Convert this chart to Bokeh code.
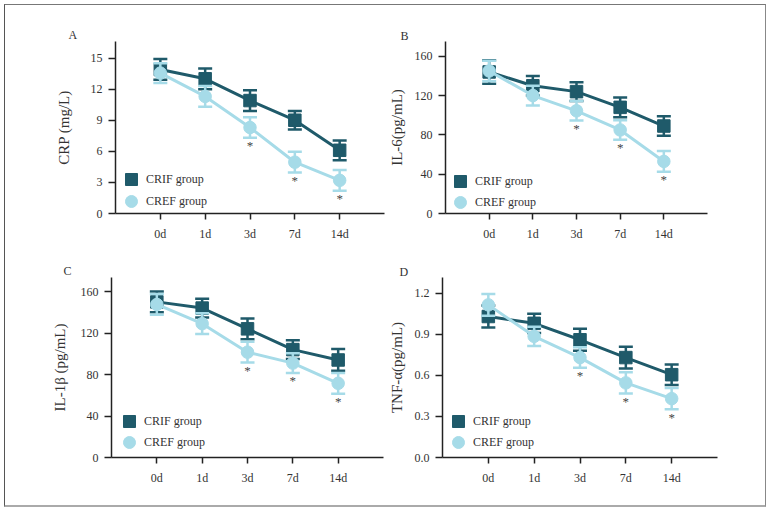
import math
from bokeh.plotting import figure
from bokeh.models import FixedTicker, Legend, LegendItem, Range1d, ColumnDataSource
from bokeh.layouts import column, row
from bokeh.embed import file_html
from bokeh.resources import INLINE
from bokeh.core.properties import value

# ---------------- data ----------------
days = ["0d", "1d", "3d", "7d", "14d"]
groups = ["CRIF group", "CREF group"]
sig = [False, False, True, True, True]   # * marks (CREF vs CRIF)

crp_crif = [13.9, 13.0, 10.9, 9.0, 6.1]
crp_crif_sd = [1.0, 1.0, 1.0, 0.9, 0.95]
crp_cref = [13.55, 11.3, 8.3, 4.95, 3.2]
crp_cref_sd = [0.95, 1.0, 1.0, 1.0, 1.0]

il6_crif = [144, 130, 124, 108, 89]
il6_crif_sd = [12, 10, 9.5, 10, 10]
il6_cref = [145, 120, 104.5, 85, 53]
il6_cref_sd = [10.5, 10, 10, 10, 10.5]

il1b_crif = [150, 144, 124, 104, 94]
il1b_crif_sd = [10, 9, 10, 9, 10.5]
il1b_cref = [147.5, 129, 101.5, 91, 71.5]
il1b_cref_sd = [10, 10, 10, 9.5, 10]

tnf_crif = [1.03, 0.98, 0.86, 0.73, 0.605]
tnf_crif_sd = [0.08, 0.07, 0.08, 0.08, 0.075]
tnf_cref = [1.115, 0.885, 0.73, 0.545, 0.43]
tnf_cref_sd = [0.08, 0.07, 0.075, 0.077, 0.078]

crp_ticks = [0, 3, 6, 9, 12, 15]
il_ticks = [0, 40, 80, 120, 160]
tnf_ticks = [0.0, 0.3, 0.6, 0.9, 1.2]

FONT = "Liberation Serif"
DARK = "#1f5a6a"
LIGHT = "#a6dbe8"
AXIS = "#222222"
TXT = "#333333"
GLYPH = 30  # legend glyph box -> marker size 0.4*30 = 12


def make_panel(letter, ylabel, ticks, fmt, ymax, crif, crif_sd, cref, cref_sd, g):
    p = figure(width=380, height=250, x_range=Range1d(-1, 5), y_range=Range1d(0, ymax),
               toolbar_location=None, output_backend="svg",
               min_border_left=g["l"], min_border_right=g["r"],
               min_border_top=g["t"], min_border_bottom=g["b"])
    p.outline_line_color = None
    p.grid.visible = False
    p.background_fill_color = "white"
    p.border_fill_color = "white"

    # panel letter as title
    p.title.text = letter
    p.title.align = "left"
    p.title.offset = g["po"]
    p.title.standoff = g["ps"]
    p.title.text_font = FONT
    p.title.text_font_size = "12px"
    p.title.text_font_style = "normal"
    p.title.text_color = TXT

    x = list(range(len(days)))
    p.xaxis.ticker = FixedTicker(ticks=x)
    p.xaxis.major_label_overrides = {i: d for i, d in enumerate(days)}
    p.yaxis.ticker = FixedTicker(ticks=ticks)
    p.yaxis.major_label_overrides = {t: (fmt % t) for t in ticks}
    for ax in (p.xaxis, p.yaxis):
        ax.axis_line_color = AXIS
        ax.axis_line_width = 1.5
        ax.major_tick_line_color = AXIS
        ax.major_tick_line_width = 1.5
        ax.major_tick_in = 0
        ax.minor_tick_line_color = None
        ax.major_label_text_font = FONT
        ax.major_label_text_font_size = "12px"
        ax.major_label_text_color = TXT
    p.xaxis.major_tick_out = 6
    p.yaxis.major_tick_out = 7
    p.xaxis.major_label_standoff = 7
    p.yaxis.major_label_standoff = 6
    p.yaxis.axis_label = ylabel
    p.yaxis.axis_label_standoff = g["as"]
    p.yaxis.axis_label_text_font = FONT
    p.yaxis.axis_label_text_font_size = "15px"
    p.yaxis.axis_label_text_font_style = "normal"
    p.yaxis.axis_label_text_color = TXT

    rends = []
    for mean, sd, col, marker in ((crif, crif_sd, DARK, "square"), (cref, cref_sd, LIGHT, "circle")):
        lo = [m - s for m, s in zip(mean, sd)]
        hi = [m + s for m, s in zip(mean, sd)]
        src = ColumnDataSource(dict(x=x, y=mean, lo=lo, hi=hi))
        p.line("x", "y", source=src, line_color=col, line_width=3)
        p.segment(x0="x", y0="lo", x1="x", y1="hi", source=src, line_color=col, line_width=2.5)
        p.scatter("x", "lo", source=src, marker="dash", size=14, line_color=col, line_width=2.5)
        p.scatter("x", "hi", source=src, marker="dash", size=14, line_color=col, line_width=2.5)
        r = p.scatter("x", "y", source=src, marker=marker, size=12.5, fill_color=col, line_color=col)
        rends.append(r)

    sx = [i for i, s in enumerate(sig) if s]
    sy = [cref[i] - cref_sd[i] for i in sx]
    p.text(x=sx, y=sy, text=["*"] * len(sx), text_font=value(FONT), text_font_size="13px",
           text_color="#444444", text_align="center", text_baseline="middle", y_offset=8)

    for k, ry in enumerate((g["ly1"], g["ly2"])):
        leg = Legend(items=[LegendItem(label=groups[k], renderers=[rends[k]])],
                     location=(g["lx"] - GLYPH // 2, ry - GLYPH // 2),
                     glyph_width=GLYPH, glyph_height=GLYPH, label_height=GLYPH,
                     label_standoff=0, padding=0, margin=0,
                     label_text_font=FONT, label_text_font_size="12px", label_text_color=TXT,
                     background_fill_alpha=0, border_line_color=None)
        p.add_layout(leg, "center")
    return p


gA = dict(l=110, r=1, t=29, b=42, lx=16, ly1=34, ly2=12, **{"as": 16}, po=-47, ps=0)
gB = dict(l=59, r=58, t=36, b=42, lx=15, ly1=32, ly2=11, **{"as": 7}, po=-45, ps=-3)
gC = dict(l=106, r=2, t=22, b=48, lx=18, ly1=36, ly2=15, **{"as": 10}, po=-48, ps=-1)
gD = dict(l=57, r=48, t=20, b=48, lx=16, ly1=36, ly2=15, **{"as": 7}, po=-43, ps=-3)

pA = make_panel("A", "CRP (mg/L)", crp_ticks, "%d", 16.6, crp_crif, crp_crif_sd, crp_cref, crp_cref_sd, gA)
pB = make_panel("B", "IL-6(pg/mL)", il_ticks, "%d", 175, il6_crif, il6_crif_sd, il6_cref, il6_cref_sd, gB)
pC = make_panel("C", "IL-1\u03b2 (pg/mL)", il_ticks, "%d", 173.5, il1b_crif, il1b_crif_sd, il1b_cref, il1b_cref_sd, gC)
pD = make_panel("D", "TNF-\u03b1(pg/mL)", tnf_ticks, "%.1f", 1.315, tnf_crif, tnf_crif_sd, tnf_cref, tnf_cref_sd, gD)

layout = column(row(pA, pB), row(pC, pD), margin=(4, 0, 0, 4),
                styles={"border-top": "1px solid #777777", "border-left": "1px solid #555555",
                        "border-right": "1px solid #888888", "border-bottom": "2px solid #aaaaaa"})

open("out.html", "w").write(file_html(layout, INLINE))
